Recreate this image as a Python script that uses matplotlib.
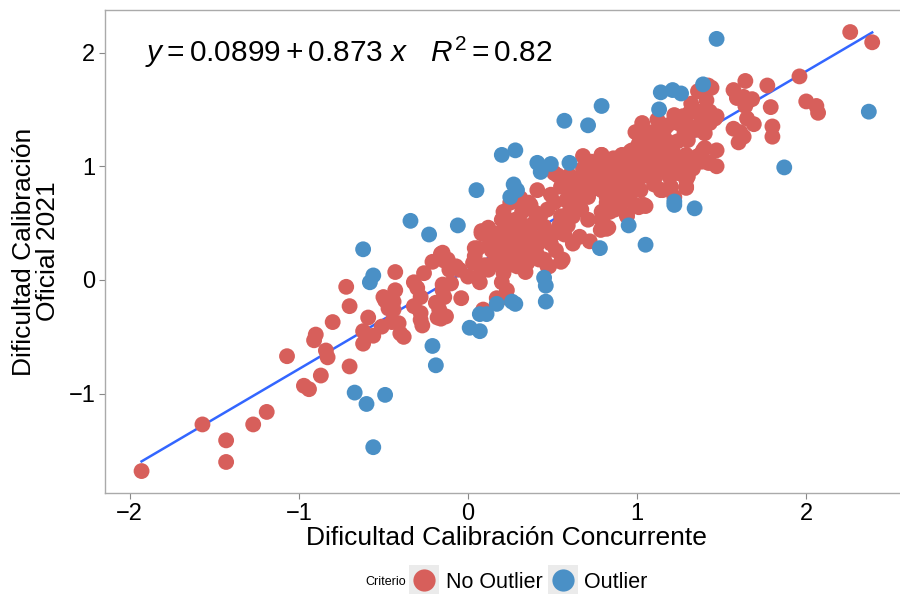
import matplotlib
matplotlib.use("Agg")
import matplotlib.pyplot as plt
from matplotlib.lines import Line2D
from matplotlib.legend_handler import HandlerTuple
import numpy as np

plt.rcParams['font.family'] = ['Liberation Sans', 'DejaVu Sans']
plt.rcParams['mathtext.fontset'] = 'custom'
plt.rcParams['mathtext.rm'] = 'Liberation Sans'
plt.rcParams['mathtext.it'] = 'Liberation Sans:italic'

intercepto = 0.0899
pendiente = 0.873
r2 = 0.82

# puntos "No Outlier" (x = concurrente, y = oficial)
no_outlier = [
    (-1.93, -1.68), (-1.57, -1.27), (-1.43, -1.41), (-1.43, -1.60), (-1.27, -1.27), (-1.19, -1.16),
    (-1.07, -0.67), (-0.97, -0.93), (-0.94, -0.96), (-0.87, -0.84), (-0.90, -0.48), (-0.91, -0.53),
    (-0.84, -0.62), (-0.83, -0.68), (-0.80, -0.37), (-0.72, -0.06), (-0.70, -0.23), (-0.70, -0.76),
    (-0.59, -0.33), (-0.62, -0.45), (-0.62, -0.56), (-0.56, -0.49), (-0.51, -0.41), (-0.43, 0.07),
    (-0.43, -0.09), (-0.49, -0.18), (-0.45, -0.22), (-0.47, -0.25), (-0.44, -0.26), (-0.45, -0.37),
    (-0.41, -0.38), (-0.40, -0.47), (-0.44, -0.19), (-0.38, -0.50), (-0.50, -0.15),
    (-0.32, -0.23), (-0.32, -0.02), (-0.30, -0.07), (-0.28, -0.15), (-0.28, -0.29), (-0.28, -0.35),
    (-0.27, -0.40), (-0.26, 0.06), (-0.21, 0.16), (-0.16, 0.23), (-0.14, 0.17), (-0.19, -0.20),
    (-0.17, -0.26), (-0.18, -0.33), (-0.13, -0.32), (-0.16, -0.34), (-0.14, -0.15), (-0.15, -0.04),
    (-0.15, -0.09), (-0.10, -0.03), (-0.11, 0.09), (-0.07, 0.12), (-0.04, -0.16), (-0.05, 0.09),
    (0.00, 0.03), (0.04, 0.21), (0.06, 0.28), (0.03, 0.15), (0.06, 0.03), (0.07, -0.02),
    (0.08, 0.43), (0.12, 0.46), (0.09, -0.26), (0.12, 0.09), (0.14, 0.35), (0.17, -0.16),
    (0.16, 0.15), (0.19, 0.19), (0.20, -0.02), (0.21, 0.06), (0.23, -0.09), (0.22, -0.15),
    (0.18, 0.41), (0.21, 0.31), (0.22, 0.41), (0.24, 0.47), (0.25, 0.26), (0.25, 0.18),
    (0.27, 0.32), (0.28, 0.24), (0.29, 0.12), (0.20, 0.53), (0.29, 0.48),
    (-0.12, 0.18), (-0.15, 0.24), (-0.10, 0.12), (0.04, 0.28),
    (0.25, 0.68), (0.31, 0.72), (0.36, 0.68), (0.32, 0.60), (0.40, 0.59), (0.39, 0.50),
    (0.33, 0.48), (0.21, 0.60), (0.21, 0.53), (0.28, 0.53), (0.26, 0.46), (0.23, 0.40),
    (0.18, 0.37), (0.13, 0.34), (0.08, 0.41), (0.14, 0.26), (0.19, 0.26), (0.23, 0.29),
    (0.29, 0.29), (0.33, 0.35), (0.36, 0.29), (0.39, 0.24), (0.33, 0.25), (0.34, 0.16),
    (0.21, 0.21), (0.16, 0.18), (0.10, 0.13), (0.42, 0.18), (0.24, 0.13),
    (0.33, 0.62), (0.37, 0.66), (0.29, 0.44), (0.37, 0.41), (0.25, 0.38), (0.32, 0.24),
    (0.27, 0.18), (0.35, 0.15), (0.34, 0.07), (0.41, 0.31), (0.44, 0.38), (0.45, 0.47),
    (0.43, 0.57), (0.47, 0.62), (0.49, 0.75), (0.53, 0.92), (0.59, 0.88), (0.55, 0.82),
    (0.41, 0.79), (0.51, 0.68), (0.58, 0.70), (0.62, 0.79), (0.66, 0.82), (0.68, 1.09),
    (0.71, 0.97), (0.69, 0.88), (0.75, 1.00), (0.79, 1.10), (0.77, 0.91), (0.73, 0.82),
    (0.71, 0.73), (0.64, 0.70), (0.67, 0.62), (0.60, 0.60), (0.55, 0.56), (0.54, 0.48),
    (0.59, 0.48), (0.62, 0.56), (0.71, 0.53), (0.66, 0.38), (0.72, 0.34), (0.62, 0.32),
    (0.57, 0.40), (0.51, 0.41), (0.49, 0.32), (0.52, 0.26), (0.41, 0.22), (0.45, 0.18),
    (0.47, 0.12), (0.48, 0.12), (0.55, 0.16), (0.56, 0.18), (0.79, 0.53), (0.83, 0.46),
    (0.79, 0.60), (0.82, 0.68), (0.84, 0.60), (0.86, 0.76), (0.80, 0.82), (0.84, 0.91),
    (0.90, 0.94), (0.88, 1.06), (0.94, 1.09), (0.97, 0.97), (0.94, 0.85), (0.90, 0.82),
    (0.97, 0.78), (0.93, 0.70), (0.94, 0.57), (0.89, 0.65), (0.99, 0.65), (0.51, 0.94),
    (1.03, 1.38), (0.99, 1.30), (1.12, 1.41), (1.16, 1.32), (1.04, 1.20), (1.12, 1.20),
    (0.87, 1.00), (0.94, 1.03), (1.02, 1.04), (0.97, 0.95), (1.03, 0.98), (1.10, 1.04),
    (1.16, 1.09), (1.14, 0.97), (1.20, 0.97), (0.65, 0.88), (0.78, 0.88), (0.86, 0.88),
    (0.92, 0.88), (0.66, 0.81), (0.71, 0.76), (0.79, 0.79), (0.82, 0.73), (0.90, 0.78),
    (0.96, 0.76), (1.02, 0.79), (1.10, 0.88), (1.14, 0.79), (1.22, 0.73), (1.08, 1.25),
    (0.96, 1.13), (0.91, 1.10), (0.86, 1.07), (0.79, 1.10), (0.73, 1.04), (0.80, 1.01),
    (0.68, 0.98), (0.60, 0.92), (0.73, 0.94), (0.82, 0.95), (0.57, 0.82),
    (1.42, 1.71), (1.44, 1.69), (1.36, 1.66), (1.41, 1.58), (1.32, 1.55), (1.31, 1.47),
    (1.36, 1.48), (1.38, 1.42), (1.43, 1.48), (1.46, 1.42), (1.43, 1.38), (1.22, 1.45),
    (1.27, 1.44), (1.24, 1.38), (1.31, 1.35), (1.35, 1.32), (1.40, 1.29), (1.28, 1.30),
    (1.18, 1.36), (1.02, 1.30), (1.09, 1.30), (1.15, 1.30), (1.12, 1.22), (1.18, 1.22),
    (1.24, 1.22), (1.30, 1.23), (1.06, 1.22), (1.01, 1.20), (0.97, 1.14), (1.03, 1.13),
    (1.09, 1.14), (1.15, 1.14), (1.21, 1.13), (0.93, 1.09), (0.98, 1.06), (1.05, 1.06),
    (1.11, 1.07), (1.17, 1.06), (1.24, 1.06), (1.29, 1.10), (1.36, 1.09), (1.39, 1.14),
    (1.38, 1.04), (1.43, 1.03), (1.47, 1.00), (1.47, 1.14), (0.83, 1.00), (0.87, 0.97),
    (0.94, 0.98), (1.00, 1.00), (1.07, 1.00), (0.80, 0.91), (0.84, 0.88), (0.97, 0.92),
    (1.03, 0.91), (1.10, 0.89), (1.16, 0.97), (1.21, 1.00), (1.27, 1.01), (1.30, 0.94),
    (1.33, 0.98), (1.10, 0.84), (1.15, 0.79), (1.20, 0.82), (1.29, 0.82), (1.29, 0.88),
    (1.00, 0.82), (0.82, 0.85), (0.87, 0.69), (0.94, 0.73), (0.99, 0.66), (1.04, 0.66),
    (0.82, 0.65), (0.87, 0.62), (0.94, 0.56), (1.01, 0.64), (1.05, 0.65), (0.82, 0.45),
    (0.80, 0.56), (0.785, 0.44), (1.28, 0.98), (1.24, 0.94), (1.19, 0.91), (1.30, 0.91),
    (1.29, 0.81),
    (2.26, 2.18), (2.39, 2.09), (1.96, 1.79), (2.00, 1.57), (2.06, 1.53), (2.07, 1.47),
    (1.64, 1.75), (1.77, 1.71), (1.79, 1.52), (1.80, 1.35), (1.80, 1.26), (1.57, 1.67),
    (1.59, 1.60), (1.63, 1.61), (1.68, 1.59), (1.64, 1.53), (1.65, 1.42), (1.69, 1.37),
    (1.57, 1.33), (1.61, 1.30), (1.63, 1.26), (1.60, 1.21), (1.47, 1.44), (1.40, 1.16),
    (1.38, 1.11), (1.35, 1.04), (1.42, 1.03),
]

# puntos "Outlier"
outlier = [
    (-0.62, 0.27), (-0.56, 0.04), (-0.58, -0.02), (-0.67, -0.99), (-0.60, -1.09), (-0.49, -1.01),
    (-0.56, -1.47), (-0.19, -0.75), (-0.21, -0.58), (0.20, 1.10), (0.28, 1.14), (0.05, 0.79),
    (-0.34, 0.52), (-0.23, 0.40), (-0.06, 0.48), (0.27, 0.84), (0.29, 0.79), (0.25, 0.73),
    (0.41, 1.03), (0.49, 1.02), (0.43, 0.95), (0.60, 1.03), (0.78, 0.28), (0.45, 0.02),
    (0.46, -0.05), (0.46, -0.19), (0.17, -0.21), (0.26, -0.19), (0.28, -0.21), (0.07, -0.30),
    (0.11, -0.30), (0.01, -0.42), (0.07, -0.45), (0.95, 0.48), (1.47, 2.12), (2.37, 1.48),
    (1.87, 0.99), (1.39, 1.72), (1.14, 1.65), (1.21, 1.67), (1.26, 1.64), (1.13, 1.50),
    (0.79, 1.53), (1.22, 0.69), (1.22, 0.66), (1.34, 0.63), (1.05, 0.31), (0.57, 1.40),
    (0.71, 1.36),
]

rojo = '#D75F5B'
azul = '#4A90C6'
linea = '#3366FF'

no_x, no_y = np.array(no_outlier).T
out_x, out_y = np.array(outlier).T
todos_x = np.concatenate([no_x, out_x])
todos_y = np.concatenate([no_y, out_y])

fig = plt.figure(figsize=(9, 5.94), dpi=100)
ax = fig.add_axes([0.1167, 0.170, 0.893, 0.813])

# recta de regresion (debajo de los puntos, como en ggplot)
xs = np.array([todos_x.min(), todos_x.max()])
ax.plot(xs, intercepto + pendiente * xs, color=linea, lw=1.8, zorder=2)

ax.scatter(no_x, no_y, s=130, color=rojo, edgecolors='none', zorder=3)
ax.scatter(out_x, out_y, s=130, color=azul, edgecolors='none', zorder=3)

# limites con la expansion de 5% de ggplot
rx = todos_x.max() - todos_x.min()
ry = todos_y.max() - todos_y.min()
ax.set_xlim(todos_x.min() - 0.05 * rx, todos_x.max() + 0.05 * rx)
ax.set_ylim(todos_y.min() - 0.05 * ry, todos_y.max() + 0.05 * ry)

ax.set_xticks([-2, -1, 0, 1, 2])
ax.set_yticks([-1, 0, 1, 2])
ax.set_xticklabels(['\u22122', '\u22121', '0', '1', '2'])
ax.set_yticklabels(['\u22121', '0', '1', '2'])
ax.tick_params(labelsize=17, colors='#888888', labelcolor='black', length=4, width=0.8, pad=3)
for s in ax.spines.values():
    s.set_color('#AAAAAA')
    s.set_linewidth(1.0)

ax.set_xlabel('Dificultad Calibración Concurrente', fontsize=19, labelpad=1)
ax.set_ylabel('Dificultad Calibración\nOficial 2021', fontsize=19, labelpad=6, linespacing=1.0)

ax.text(0.05, 0.913,
        r'$y = 0.0899 + 0.873\ x \quad R^2 = 0.82$',
        transform=ax.transAxes, fontsize=21.5, va='center', ha='left')

# leyenda inferior
fondo = Line2D([], [], marker='s', ls='none', markersize=21, color='#EBEBEB', markeredgewidth=0)
h_no = Line2D([], [], marker='o', ls='none', markersize=16, color=rojo, markeredgewidth=0)
h_out = Line2D([], [], marker='o', ls='none', markersize=16, color=azul, markeredgewidth=0)
fig.legend([(fondo, h_no), (fondo, h_out)], ['No Outlier', 'Outlier'],
           handler_map={tuple: HandlerTuple(ndivide=1, pad=0)},
           loc='center', bbox_to_anchor=(0.587, 0.02), ncol=2, frameon=False,
           fontsize=15.5, handlelength=1.4, handletextpad=0.3, columnspacing=0.25,
           borderpad=0, borderaxespad=0)
fig.text(0.429, 0.02, 'Criterio', fontsize=9, va='center', ha='center')

fig.savefig('out.png', dpi=100)
